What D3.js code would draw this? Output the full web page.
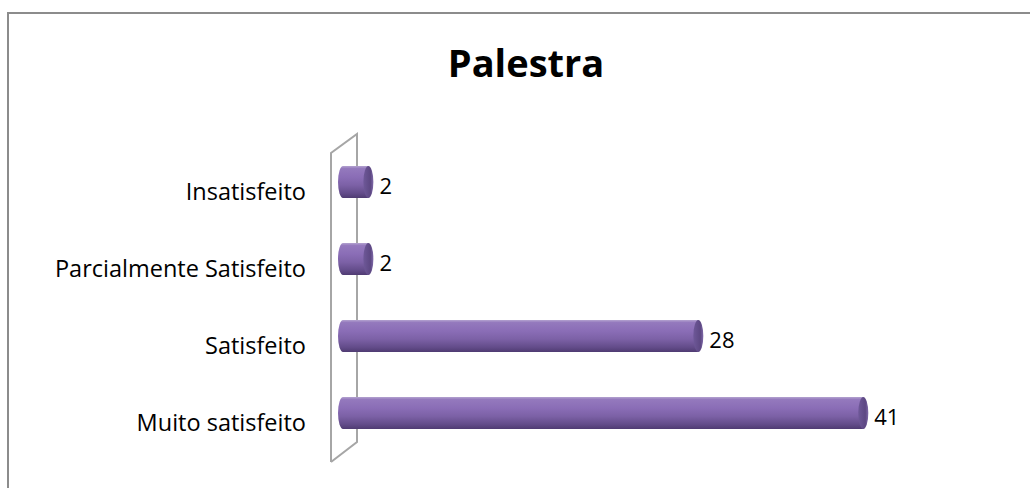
<!DOCTYPE html>
<html>
<head>
<meta charset="utf-8">
<script src="https://cdn.jsdelivr.net/npm/d3@7"></script>
<style>
  body { margin: 0; background: #fff; }
  svg { display: block; }
  text { font-family: "Open Sans", Lato, sans-serif; fill: #000; }
</style>
</head>
<body>
<div id="chart"></div>
<script>
const title = "Palestra"
const categories = ["Insatisfeito", "Parcialmente Satisfeito", "Satisfeito", "Muito satisfeito"]
const values = [2, 2, 28, 41]
const xMax = 45

const width = 1030, height = 488

const svg = d3.select('#chart').append('svg')
    .attr('width', width)
    .attr('height', height)

// outer chart border (bottom/right run off the picture)
svg.append('rect')
    .attr('x', 8).attr('y', 13)
    .attr('width', 1040).attr('height', 500)
    .attr('fill', '#fff')
    .attr('stroke', '#8c8c8c')
    .attr('stroke-width', 2)

svg.append('text')
    .attr('x', 526).attr('y', 77)
    .attr('text-anchor', 'middle')
    .style('font-size', '38px')
    .style('font-weight', 'bold')
    .text(title)

const x = d3.scaleLinear().domain([0, xMax]).range([348, 348 + 12.69 * xMax])
const y = d3.scaleBand().domain(categories).range([143.5, 451.5])

const barH = 32, capRx = 5, depth = 10

// gradients
const defs = svg.append('defs')
const body = defs.append('linearGradient')
    .attr('id', 'cyl').attr('x1', 0).attr('y1', 0).attr('x2', 0).attr('y2', 1)
const stops = [[0, '#b3a2cf'], [0.08, '#9479bd'], [0.35, '#8a6db6'], [0.6, '#7c61a6'], [0.85, '#634c8a'], [1, '#4f3b72']]
stops.forEach(s => body.append('stop').attr('offset', s[0]).attr('stop-color', s[1]))

const cap = defs.append('linearGradient')
    .attr('id', 'cap').attr('x1', 0).attr('y1', 0).attr('x2', 1).attr('y2', 0)
cap.append('stop').attr('offset', 0).attr('stop-color', '#6e5898')
cap.append('stop').attr('offset', 0.7).attr('stop-color', '#5d4883')
cap.append('stop').attr('offset', 1).attr('stop-color', '#7f69a8')

// wall (3d back plane seen edge-on)
const wall = svg.append('g')
    .attr('fill', 'none')
    .attr('stroke', '#a6a6a6')
    .attr('stroke-width', 2)
wall.append('path')
    .attr('d', 'M331,462 L331,153 L357,134 L357,442 L331,462')

// bars
const bars = svg.append('g').selectAll('g.bar')
    .data(categories.map((c, i) => ({cat: c, value: values[i]})))
    .enter()
        .append('g')
        .classed('bar', true)
        .attr('transform', d => `translate(0,${y(d.cat) + y.bandwidth() / 2})`)

bars.append('ellipse')
    .attr('cx', x(0) - depth + capRx)
    .attr('cy', 0)
    .attr('rx', capRx).attr('ry', barH / 2)
    .attr('fill', 'url(#cyl)')

bars.append('rect')
    .attr('x', x(0) - depth + capRx)
    .attr('y', -barH / 2)
    .attr('width', d => x(d.value) - capRx - (x(0) - depth + capRx))
    .attr('height', barH)
    .attr('fill', 'url(#cyl)')

bars.append('ellipse')
    .attr('cx', d => x(d.value) - capRx)
    .attr('cy', 0)
    .attr('rx', capRx).attr('ry', barH / 2)
    .attr('fill', 'url(#cap)')

bars.append('text')
    .attr('x', d => x(d.value) + 6)
    .attr('y', 4)
    .attr('dy', '0.36em')
    .style('font-size', '22px')
    .text(d => d.value)

// category labels (sit a little lower than the bars, 3d projection)
svg.append('g').selectAll('text')
    .data(categories)
    .enter()
        .append('text')
        .attr('x', 306)
        .attr('y', d => y(d) + y.bandwidth() / 2 + 10)
        .attr('dy', '0.36em')
        .attr('text-anchor', 'end')
        .style('font-size', '23.5px')
        .text(d => d)
</script>
</body>
</html>
